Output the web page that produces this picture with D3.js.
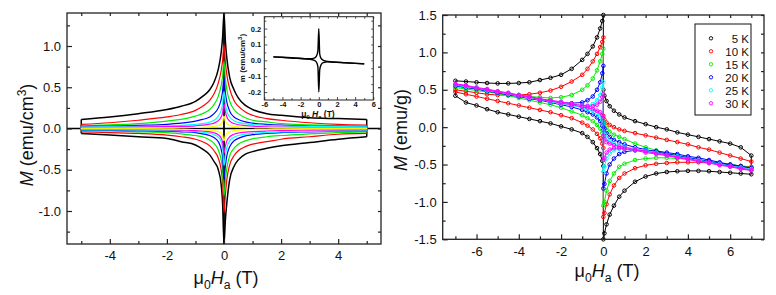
<!DOCTYPE html>
<html>
<head>
<meta charset="utf-8">
<script src="https://cdn.jsdelivr.net/npm/d3@7/dist/d3.min.js"></script>
<style>
  body { margin: 0; background: #fff; }
  text { font-family: 'Liberation Sans', Arial, sans-serif; fill: #111; }
</style>
</head>
<body>
<svg id="chart" width="776" height="295"></svg>
<script>
// ---------- data: left panel (M vs field, emu/cm3) ----------
var leftH = [-5, -4, -3, -2, -1.5, -1, -0.75, -0.5, -0.35, -0.2, -0.1, -0.05, 0, 0.05, 0.1, 0.2, 0.35, 0.5, 0.75, 1, 1.5, 2, 3, 4, 5];
var leftBlackUp   = [0.11, 0.14, 0.18, 0.23, 0.27, 0.33, 0.39, 0.47, 0.56, 0.72, 0.92, 1.1, 1.4, 1.05, 0.85, 0.62, 0.47, 0.37, 0.28, 0.23, 0.18, 0.16, 0.13, 0.12, 0.11];
var leftBlackLo   = [-0.06, -0.08, -0.1, -0.12, -0.16, -0.2, -0.25, -0.32, -0.4, -0.5, -0.68, -0.9, -1.4, -1.1, -0.9, -0.62, -0.46, -0.38, -0.31, -0.28, -0.24, -0.21, -0.17, -0.13, -0.1];
var leftRedUp     = [0.05, 0.07, 0.1, 0.14, 0.17, 0.22, 0.27, 0.34, 0.42, 0.55, 0.7, 0.82, 1.02, 0.8, 0.65, 0.48, 0.34, 0.27, 0.2, 0.16, 0.12, 0.1, 0.07, 0.05, 0.04];
var leftRedLo     = [-0.04, -0.05, -0.06, -0.08, -0.1, -0.13, -0.16, -0.21, -0.27, -0.36, -0.5, -0.65, -1.02, -0.8, -0.62, -0.44, -0.33, -0.27, -0.22, -0.19, -0.16, -0.13, -0.1, -0.07, -0.06];
var leftGreenUp   = [0.03, 0.045, 0.06, 0.09, 0.11, 0.15, 0.18, 0.23, 0.29, 0.39, 0.52, 0.63, 0.82, 0.6, 0.47, 0.33, 0.23, 0.18, 0.13, 0.1, 0.08, 0.06, 0.045, 0.035, 0.03];
var leftGreenLo   = [-0.025, -0.03, -0.04, -0.05, -0.065, -0.085, -0.1, -0.14, -0.18, -0.26, -0.38, -0.5, -0.82, -0.62, -0.48, -0.33, -0.24, -0.19, -0.15, -0.125, -0.1, -0.085, -0.065, -0.05, -0.04];
var leftBlueUp    = [0.025, 0.03, 0.038, 0.05, 0.065, 0.09, 0.11, 0.14, 0.18, 0.25, 0.35, 0.45, 0.62, 0.43, 0.32, 0.21, 0.14, 0.11, 0.08, 0.065, 0.05, 0.04, 0.03, 0.025, 0.022];
var leftBlueLo    = [-0.02, -0.022, -0.027, -0.032, -0.04, -0.05, -0.065, -0.085, -0.11, -0.16, -0.25, -0.35, -0.62, -0.45, -0.33, -0.22, -0.15, -0.12, -0.09, -0.075, -0.06, -0.05, -0.04, -0.032, -0.028];
var leftCyanUp    = [0.02, 0.022, 0.026, 0.032, 0.038, 0.05, 0.06, 0.078, 0.1, 0.15, 0.22, 0.3, 0.45, 0.3, 0.21, 0.14, 0.095, 0.075, 0.058, 0.048, 0.038, 0.032, 0.026, 0.022, 0.02];
var leftCyanLo    = [-0.016, -0.018, -0.02, -0.025, -0.03, -0.038, -0.045, -0.058, -0.075, -0.105, -0.16, -0.23, -0.45, -0.32, -0.23, -0.15, -0.105, -0.085, -0.068, -0.058, -0.048, -0.042, -0.035, -0.03, -0.027];
var leftMagentaUp = [0.013, 0.015, 0.018, 0.022, 0.026, 0.033, 0.04, 0.052, 0.065, 0.095, 0.14, 0.19, 0.3, 0.2, 0.14, 0.09, 0.06, 0.045, 0.035, 0.028, 0.02, 0.016, 0.012, 0.01, 0.008];
var leftMagentaLo = [-0.01, -0.011, -0.013, -0.016, -0.02, -0.025, -0.03, -0.04, -0.052, -0.075, -0.115, -0.165, -0.3, -0.21, -0.15, -0.1, -0.07, -0.055, -0.045, -0.038, -0.03, -0.025, -0.02, -0.016, -0.014];
var leftYellowUp  = [0.004, 0.004, 0.005, 0.007, 0.009, 0.012, 0.015, 0.02, 0.026, 0.038, 0.06, 0.085, 0.15, 0.085, 0.06, 0.038, 0.026, 0.02, 0.015, 0.012, 0.009, 0.007, 0.005, 0.004, 0.004];
var leftYellowLo  = [-0.004, -0.004, -0.005, -0.007, -0.009, -0.012, -0.015, -0.02, -0.026, -0.038, -0.06, -0.085, -0.15, -0.085, -0.06, -0.038, -0.026, -0.02, -0.015, -0.012, -0.009, -0.007, -0.005, -0.004, -0.004];

// inset (m in emu/cm3)
var insetH  = [-5, -3, -1, -0.5, -0.25, -0.1, 0, 0.1, 0.25, 0.5, 1, 3, 5];
var insetUp = [0.022, 0.016, 0.01, 0.014, 0.028, 0.06, 0.2, 0.04, 0.012, 0.0, -0.007, -0.015, -0.022];
var insetLo = [0.022, 0.015, 0.007, 0.0, -0.012, -0.04, -0.2, -0.06, -0.028, -0.014, -0.01, -0.016, -0.022];

// ---------- data: right panel (M vs field, emu/g) ----------
// sweep grid: negative side up to 0-, then 0+ up to 7 T
var rightH = [-7, -6.5, -6, -5.5, -5, -4.5, -4, -3.5, -3, -2.5, -2, -1.5, -1, -0.75, -0.5, -0.3, -0.15, -0.05, 0,
              0, 0.05, 0.15, 0.3, 0.5, 0.75, 1, 1.5, 2, 2.5, 3, 3.5, 4, 4.5, 5, 5.5, 6, 6.5, 7];
var temps = ["5 K", "10 K", "15 K", "20 K", "25 K", "30 K"];
var tempColors = ["#000000", "#ff0000", "#00ee00", "#0000ff", "#00ffff", "#ff00ff"];

var desc5K  = [0.62, 0.61, 0.6, 0.59, 0.585, 0.585, 0.59, 0.6, 0.63, 0.66, 0.7, 0.78, 0.9, 0.98, 1.08, 1.2, 1.32, 1.42, 1.5,
               0.5, 0.42, 0.35, 0.28, 0.22, 0.17, 0.13, 0.08, 0.04, 0.0, -0.03, -0.07, -0.1, -0.13, -0.16, -0.19, -0.22, -0.27, -0.38];
var asc5K   = [0.42, 0.33, 0.29, 0.24, 0.2, 0.17, 0.14, 0.11, 0.08, 0.05, 0.01, -0.03, -0.08, -0.13, -0.2, -0.28, -0.36, -0.45, -0.52,
               -1.5, -1.42, -1.3, -1.17, -1.05, -0.93, -0.85, -0.73, -0.66, -0.62, -0.6, -0.59, -0.585, -0.585, -0.59, -0.6, -0.61, -0.62, -0.63];
var desc10K = [0.5, 0.48, 0.46, 0.44, 0.43, 0.43, 0.43, 0.44, 0.46, 0.49, 0.54, 0.61, 0.7, 0.78, 0.88, 0.98, 1.07, 1.14, 1.2,
               0.15, 0.1, 0.06, 0.03, 0.0, -0.03, -0.05, -0.08, -0.11, -0.14, -0.17, -0.2, -0.23, -0.27, -0.3, -0.34, -0.38, -0.42, -0.46];
var asc10K  = [0.47, 0.44, 0.41, 0.38, 0.35, 0.32, 0.29, 0.26, 0.23, 0.2, 0.16, 0.12, 0.06, 0.02, -0.03, -0.09, -0.15, -0.22, -0.28,
               -1.2, -1.15, -1.03, -0.9, -0.78, -0.68, -0.62, -0.55, -0.51, -0.49, -0.48, -0.47, -0.47, -0.47, -0.48, -0.49, -0.5, -0.52, -0.53];
var desc15K = [0.55, 0.53, 0.51, 0.49, 0.47, 0.45, 0.43, 0.41, 0.4, 0.39, 0.4, 0.43, 0.5, 0.56, 0.65, 0.76, 0.88, 0.98, 1.05,
               0.08, 0.05, -0.01, -0.06, -0.1, -0.13, -0.16, -0.22, -0.27, -0.31, -0.35, -0.38, -0.41, -0.44, -0.46, -0.48, -0.5, -0.52, -0.54];
var asc15K  = [0.53, 0.51, 0.49, 0.47, 0.45, 0.42, 0.39, 0.36, 0.33, 0.3, 0.26, 0.21, 0.16, 0.12, 0.08, 0.03, -0.02, -0.08, -0.13,
               -1.05, -1.0, -0.85, -0.72, -0.62, -0.53, -0.49, -0.44, -0.42, -0.41, -0.41, -0.42, -0.43, -0.45, -0.47, -0.49, -0.5, -0.52, -0.55];
var desc20K = [0.56, 0.54, 0.52, 0.5, 0.47, 0.45, 0.42, 0.4, 0.37, 0.35, 0.33, 0.32, 0.33, 0.36, 0.41, 0.5, 0.6, 0.72, 0.82,
               0.05, -0.02, -0.08, -0.13, -0.17, -0.2, -0.23, -0.27, -0.3, -0.33, -0.36, -0.38, -0.41, -0.43, -0.46, -0.48, -0.51, -0.53, -0.55];
var asc20K  = [0.55, 0.53, 0.51, 0.48, 0.46, 0.43, 0.41, 0.38, 0.36, 0.33, 0.3, 0.27, 0.23, 0.2, 0.17, 0.13, 0.08, 0.02, -0.04,
               -0.82, -0.76, -0.62, -0.5, -0.42, -0.36, -0.33, -0.31, -0.31, -0.32, -0.34, -0.36, -0.39, -0.41, -0.44, -0.47, -0.5, -0.52, -0.55];
var desc25K = [0.57, 0.55, 0.53, 0.5, 0.48, 0.45, 0.43, 0.4, 0.38, 0.35, 0.33, 0.31, 0.29, 0.29, 0.31, 0.36, 0.43, 0.53, 0.6,
               -0.05, -0.1, -0.15, -0.19, -0.22, -0.24, -0.26, -0.29, -0.31, -0.34, -0.37, -0.39, -0.42, -0.44, -0.47, -0.49, -0.52, -0.54, -0.56];
var asc25K  = [0.56, 0.54, 0.52, 0.49, 0.47, 0.44, 0.42, 0.39, 0.37, 0.34, 0.31, 0.29, 0.26, 0.24, 0.22, 0.19, 0.15, 0.1, 0.05,
               -0.6, -0.53, -0.42, -0.36, -0.31, -0.29, -0.29, -0.31, -0.33, -0.35, -0.38, -0.4, -0.43, -0.45, -0.48, -0.5, -0.53, -0.55, -0.57];
var desc30K = [0.58, 0.56, 0.53, 0.51, 0.48, 0.46, 0.43, 0.41, 0.38, 0.36, 0.34, 0.31, 0.29, 0.28, 0.28, 0.3, 0.34, 0.4, 0.44,
               -0.12, -0.16, -0.2, -0.22, -0.24, -0.26, -0.27, -0.3, -0.32, -0.35, -0.37, -0.4, -0.42, -0.45, -0.47, -0.5, -0.52, -0.55, -0.57];
var asc30K  = [0.57, 0.55, 0.52, 0.5, 0.47, 0.45, 0.42, 0.4, 0.37, 0.35, 0.32, 0.3, 0.27, 0.26, 0.24, 0.22, 0.2, 0.16, 0.12,
               -0.44, -0.41, -0.34, -0.3, -0.28, -0.28, -0.29, -0.31, -0.34, -0.36, -0.38, -0.41, -0.43, -0.46, -0.48, -0.51, -0.53, -0.56, -0.58];

// tick values
var leftXLabels = [-4, -2, 0, 2, 4];
var leftXMinor = [-5, -3, -1, 1, 3, 5];
var leftYLabels = [-1.0, -0.5, 0.0, 0.5, 1.0];
var leftYMinor = [-1.25, -0.75, -0.25, 0.25, 0.75, 1.25];
var insetXLabels = [-6, -4, -2, 0, 2, 4, 6];
var insetXMinor = [-5, -3, -1, 1, 3, 5];
var insetYLabels = [-0.2, -0.1, 0.0, 0.1, 0.2];
var insetYMinor = [-0.15, -0.05, 0.05, 0.15, 0.25];
var rightXLabels = [-6, -4, -2, 0, 2, 4, 6];
var rightXMinor = [-7, -5, -3, -1, 1, 3, 5, 7];
var rightYLabels = [-1.5, -1.0, -0.5, 0.0, 0.5, 1.0, 1.5];
var rightYMinor = [-1.25, -0.75, -0.25, 0.25, 0.75, 1.25];

var svg = d3.select("#chart");

// frame with inward ticks on all four sides
function drawFrame(g, x, y, o) {
    var x0 = x.range()[0], x1 = x.range()[1], yb = y.range()[0], yt = y.range()[1];
    function styleAxis(sel) {
        sel.select(".domain").remove();
        sel.selectAll(".tick line").attr("stroke", "#222").attr("stroke-width", o.tw);
        sel.selectAll(".tick text").attr("font-size", o.fs).attr("font-weight", o.fw || "normal")
            .attr("font-family", "'Liberation Sans', Arial, sans-serif").attr("fill", "#111");
    }
    g.append("g").attr("transform", "translate(0," + yb + ")")
        .call(d3.axisBottom(x).tickValues(o.xl).tickSize(-o.major).tickPadding(o.padX).tickFormat(o.fx)).call(styleAxis);
    g.append("g").attr("transform", "translate(0," + yb + ")")
        .call(d3.axisBottom(x).tickValues(o.xm).tickSize(-o.minor).tickFormat("")).call(styleAxis);
    g.append("g").attr("transform", "translate(0," + yt + ")")
        .call(d3.axisTop(x).tickValues(o.xl.concat(o.xm)).tickSize(-o.minor).tickFormat("")).call(styleAxis);
    g.append("g").attr("transform", "translate(" + x0 + ",0)")
        .call(d3.axisLeft(y).tickValues(o.yl).tickSize(-o.major).tickPadding(o.padY).tickFormat(o.fy)).call(styleAxis);
    g.append("g").attr("transform", "translate(" + x0 + ",0)")
        .call(d3.axisLeft(y).tickValues(o.ym).tickSize(-o.minor).tickFormat("")).call(styleAxis);
    g.append("g").attr("transform", "translate(" + x1 + ",0)")
        .call(d3.axisRight(y).tickValues(o.yl.concat(o.ym)).tickSize(-o.minor).tickFormat("")).call(styleAxis);
    g.append("rect").attr("x", x0).attr("y", yt).attr("width", x1 - x0).attr("height", yb - yt)
        .attr("fill", "none").attr("stroke", "#222").attr("stroke-width", o.fw ? 1 : 1.3);
}

// "μ0Ha (T)" style title
function fieldTitle(g, cx, by, fs, bold) {
    var t = g.append("text").attr("x", cx).attr("y", by).attr("text-anchor", "middle")
        .attr("font-size", fs).attr("font-weight", bold ? "bold" : "normal");
    t.append("tspan").text("μ");
    t.append("tspan").attr("font-size", fs * 0.68).attr("dy", fs * 0.28).text("0");
    t.append("tspan").attr("dy", -fs * 0.28).attr("font-style", "italic").text(bold ? " H" : "H");
    t.append("tspan").attr("font-size", fs * 0.68).attr("dy", fs * 0.28).text("a");
    t.append("tspan").attr("dy", -fs * 0.28).text(" (T)");
}

var fmt1 = function (d) { return d.toFixed(1); };
var fmt0 = function (d) { return String(d); };

// ================= left panel =================
var xL = d3.scaleLinear().domain([-5.5, 5.5]).range([67, 381]);
var yL = d3.scaleLinear().domain([-1.4, 1.4]).range([244, 13]);
var gL = svg.append("g");

gL.append("line").attr("x1", xL(-5.5)).attr("x2", xL(5.5)).attr("y1", yL(0)).attr("y2", yL(0))
    .attr("stroke", "#000").attr("stroke-width", 1.6);
gL.append("line").attr("x1", xL(0)).attr("x2", xL(0)).attr("y1", yL(1.4)).attr("y2", yL(-1.4))
    .attr("stroke", "#000").attr("stroke-width", 1.8);

var leftSeries = [
    { c: "#000000", up: leftBlackUp, lo: leftBlackLo, w: 1.5 },
    { c: "#ff0000", up: leftRedUp, lo: leftRedLo, w: 1.2 },
    { c: "#00ee00", up: leftGreenUp, lo: leftGreenLo, w: 1.2 },
    { c: "#0000ff", up: leftBlueUp, lo: leftBlueLo, w: 1.2 },
    { c: "#00ffff", up: leftCyanUp, lo: leftCyanLo, w: 1.2 },
    { c: "#ff00ff", up: leftMagentaUp, lo: leftMagentaLo, w: 1.2 },
    { c: "#ffff00", up: leftYellowUp, lo: leftYellowLo, w: 1.2 }
];
var lineL = d3.line().x(function (d) { return xL(d[0]); }).y(function (d) { return yL(d[1]); }).curve(d3.curveMonotoneX);
var segL = d3.line().x(function (d) { return xL(d[0]); }).y(function (d) { return yL(d[1]); });
leftSeries.forEach(function (s) {
    var up = leftH.map(function (h, i) { return [h, s.up[i]]; });
    var lo = leftH.map(function (h, i) { return [h, s.lo[i]]; });
    [up, lo].forEach(function (br) {
        gL.append("path").attr("d", lineL(br)).attr("fill", "none").attr("stroke", s.c).attr("stroke-width", s.w);
    });
    // close the loop at the field ends
    gL.append("path").attr("d", segL([up[0], lo[0]])).attr("stroke", s.c).attr("stroke-width", s.w);
    gL.append("path").attr("d", segL([up[up.length - 1], lo[lo.length - 1]])).attr("stroke", s.c).attr("stroke-width", s.w);
});

drawFrame(gL, xL, yL, { xl: leftXLabels, xm: leftXMinor, yl: leftYLabels, ym: leftYMinor,
    major: 5, minor: 3, tw: 1.2, fs: 13, padX: 7, padY: 6, fx: fmt0, fy: fmt1 });

// left titles
var tyL = gL.append("text").attr("transform", "translate(33,135) rotate(-90)").attr("text-anchor", "middle").attr("font-size", 18);
tyL.append("tspan").attr("font-style", "italic").text("M");
tyL.append("tspan").text(" (emu/cm");
tyL.append("tspan").attr("font-size", 12).attr("dy", -7).text("3");
tyL.append("tspan").attr("dy", 7).text(")");
fieldTitle(gL, 226, 284, 18, false);

// ---- inset ----
var xI = d3.scaleLinear().domain([-6, 6]).range([264.3, 373.3]);
var yI = d3.scaleLinear().domain([-0.25, 0.275]).range([100, 16.7]);
var gI = svg.append("g");
gI.append("rect").attr("x", 264.3).attr("y", 16.7).attr("width", 109).attr("height", 83.3).attr("fill", "#fff");
var lineI = d3.line().x(function (d) { return xI(d[0]); }).y(function (d) { return yI(d[1]); }).curve(d3.curveMonotoneX);
[insetUp, insetLo].forEach(function (arr) {
    gI.append("path").attr("d", lineI(insetH.map(function (h, i) { return [h, arr[i]]; })))
        .attr("fill", "none").attr("stroke", "#000").attr("stroke-width", 1.4);
});
drawFrame(gI, xI, yI, { xl: insetXLabels, xm: insetXMinor, yl: insetYLabels, ym: insetYMinor,
    major: 3, minor: 2, tw: 0.8, fs: 7.5, fw: "bold", padX: 1.5, padY: 3, fx: fmt0, fy: fmt1 });
var tyI = gI.append("text").attr("transform", "translate(245,58) rotate(-90)").attr("text-anchor", "middle")
    .attr("font-size", 8).attr("font-weight", "bold");
tyI.append("tspan").text("m (emu/cm");
tyI.append("tspan").attr("font-size", 6).attr("dy", -3).text("3");
tyI.append("tspan").attr("dy", 3).text(")");
fieldTitle(gI, 318, 117, 8.5, true);

// ================= right panel =================
var xR = d3.scaleLinear().domain([-7.6, 7.6]).range([442.7, 764]);
var yR = d3.scaleLinear().domain([-1.5, 1.5]).range([239.3, 15]);
var gR = svg.append("g");

var rightSeries = [
    { desc: desc5K, asc: asc5K }, { desc: desc10K, asc: asc10K }, { desc: desc15K, asc: asc15K },
    { desc: desc20K, asc: asc20K }, { desc: desc25K, asc: asc25K }, { desc: desc30K, asc: asc30K }
];
var lineR = d3.line().x(function (d) { return xR(d[0]); }).y(function (d) { return yR(d[1]); }).curve(d3.curveLinearClosed);
rightSeries.forEach(function (s, k) {
    var dn = rightH.map(function (h, i) { return [h, s.desc[i]]; });
    var up = rightH.map(function (h, i) { return [h, s.asc[i]]; });
    gR.append("g").selectAll("circle").data(dn.concat(up)).enter().append("circle")
        .attr("cx", function (d) { return xR(d[0]); })
        .attr("cy", function (d) { return yR(d[1]); })
        .attr("r", 1.8).attr("fill", "none").attr("stroke", tempColors[k]).attr("stroke-width", 1);
    gR.append("path").attr("d", lineR(dn.concat(up.slice().reverse())))
        .attr("fill", "none").attr("stroke", tempColors[k]).attr("stroke-width", 1);
});

drawFrame(gR, xR, yR, { xl: rightXLabels, xm: rightXMinor, yl: rightYLabels, ym: rightYMinor,
    major: 5, minor: 3, tw: 1.2, fs: 13, padX: 7, padY: 6, fx: fmt0, fy: fmt1 });

var tyR = gR.append("text").attr("transform", "translate(407,130) rotate(-90)").attr("text-anchor", "middle").attr("font-size", 18);
tyR.append("tspan").attr("font-style", "italic").text("M");
tyR.append("tspan").text(" (emu/g)");
fieldTitle(gR, 607, 277, 18, false);

// legend
var leg = gR.append("g");
leg.append("rect").attr("x", 695).attr("y", 24).attr("width", 56).attr("height", 91)
    .attr("fill", "#fff").attr("stroke", "#111").attr("stroke-width", 1);
temps.forEach(function (t, i) {
    var cy = 38.3 + i * 13;
    leg.append("circle").attr("cx", 711).attr("cy", cy).attr("r", 1.7)
        .attr("fill", "none").attr("stroke", tempColors[i]).attr("stroke-width", 0.9);
    leg.append("text").attr("x", 749).attr("y", cy + 4.2).attr("text-anchor", "end").attr("font-size", 11.5).text(t);
});
</script>
</body>
</html>
